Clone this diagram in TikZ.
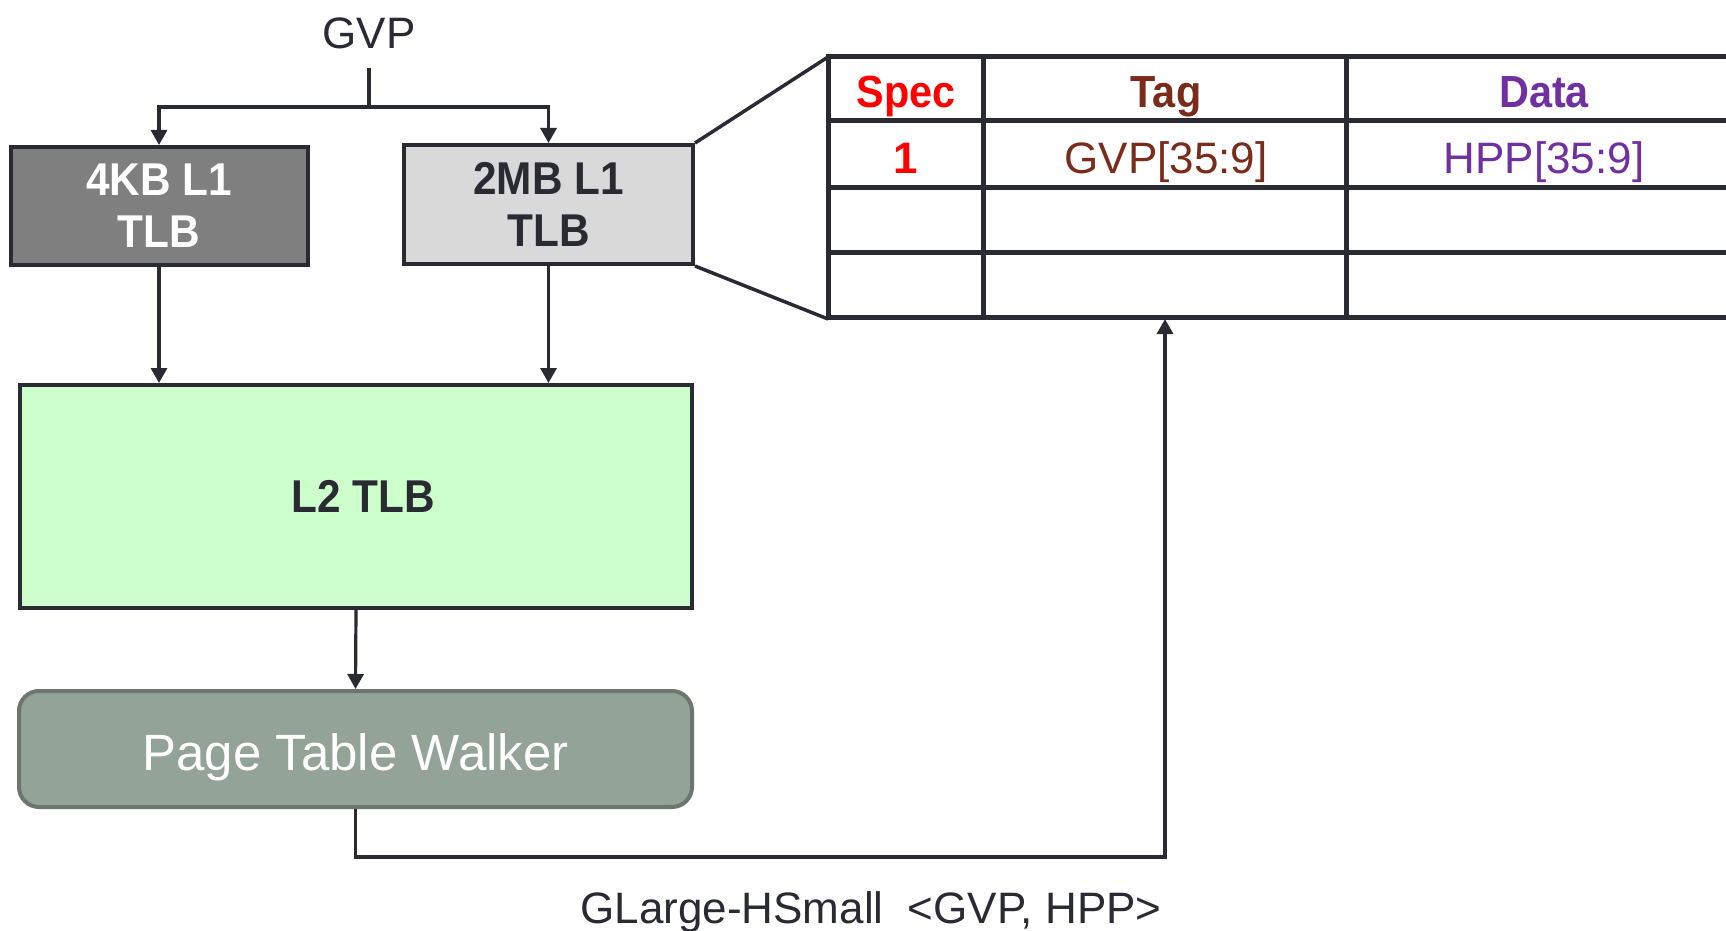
\documentclass[tikz,border=0pt]{standalone}
\usepackage{fontspec}
\setmainfont{Liberation Sans}
\newfontfamily\bnar{Liberation Sans}[FakeStretch=0.92]
\usetikzlibrary{arrows.meta}
\definecolor{ln}{HTML}{2A2A33}
\definecolor{g4k}{HTML}{7F7F7F}
\definecolor{g2m}{HTML}{D9D9D9}
\definecolor{l2c}{HTML}{CCFFCC}
\definecolor{ptwc}{HTML}{93A397}
\definecolor{ptwb}{HTML}{6B766D}
\definecolor{specc}{HTML}{FF0000}
\definecolor{tagc}{HTML}{7A2B1A}
\definecolor{datac}{HTML}{7030A0}
\tikzset{
  conn/.style={draw=ln, line width=3.2pt},
  arr/.style={conn, -{Triangle[length=15pt,width=16pt]}},
  tlbbox/.style={draw=ln, line width=4pt, inner sep=0pt, align=center,
    font=\bnar\bfseries\fontsize{46}{52}\selectfont},
  tline/.style={draw=ln, line width=5pt},
  txt/.style={inner sep=0pt, anchor=base}
}
\begin{document}
\begin{tikzpicture}[x=1pt,y=-1pt]
\useasboundingbox (0,0) rectangle (1726,931);
% GVP input
\node[txt, font=\fontsize{44}{50}\selectfont, text=ln] (gvp) at (369,49) {GVP};
\coordinate (gtop) at (369,68);
\coordinate (j) at (369,107);
% L1 TLBs
\node[tlbbox, fill=g4k, text=white, minimum width=297pt, minimum height=118pt] (l1a) at (159,206) {4KB L1\\TLB};
\node[tlbbox, fill=g2m, text=ln, minimum width=289pt, minimum height=119pt] (l1b) at (548.5,204.5) {2MB L1\\TLB};
% L2 TLB
\node[tlbbox, fill=l2c, text=ln, minimum width=672pt, minimum height=223pt] (l2) at (356,496.5) {\hspace*{14pt}L2 TLB};
% Page table walker
\node[draw=ptwb, line width=4pt, fill=ptwc, rounded corners=20pt, minimum width=673pt, minimum height=116pt,
  inner sep=0pt, text height=42pt, text depth=0pt, text=white, font=\fontsize{51}{56}\selectfont] (ptw) at (355.5,749) {Page Table Walker};
% connectors
\draw[conn] (gtop) -- (j);
\draw[arr] (j) -| (l1a.north);
\draw[arr] (j) -| (l1b.north);
\draw[arr] (l1a.south) -- (l1a.south |- l2.north);
\draw[arr] (l1b.south) -- (l1b.south |- l2.north);
\draw[arr] (l2.south) -- (ptw.north);
% table
\coordinate (tl) at (828,57);
\coordinate (bl) at (828,319);
\coordinate (tagbot) at (1165,319);
\foreach \yy in {57,121,187,252,317} \draw[tline] (826,\yy) -- (1730,\yy);
\foreach \xx in {828,983,1346} \draw[tline] (\xx,55) -- (\xx,320);
\draw[conn, line width=3.5pt] (l1b.north east) -- (tl);
\draw[conn, line width=3.5pt] (l1b.south east) -- (bl);
% table text
\node[txt, font=\bnar\bfseries\fontsize{45}{50}\selectfont, text=specc] (hspec) at (906,108) {Spec};
\node[txt, font=\bnar\bfseries\fontsize{45}{50}\selectfont, text=tagc] (htag) at (1166,108) {Tag};
\node[txt, font=\bnar\bfseries\fontsize{45}{50}\selectfont, text=datac] (hdata) at (1544,108) {Data};
\node[txt, font=\bfseries\fontsize{44}{50}\selectfont, text=specc] (r1s) at (906,173) {1};
\node[txt, font=\fontsize{44}{50}\selectfont, text=tagc] (r1t) at (1166,173) {GVP[35:9]};
\node[txt, font=\fontsize{44}{50}\selectfont, text=datac] (r1d) at (1544,173) {HPP[35:9]};
% feedback
\draw[arr] (ptw.south) -- ++(0,48) -| (tagbot);
\node[txt, font=\fontsize{44}{50}\selectfont, text=ln] (fill) at (871,923) {GLarge-HSmall\ \ <GVP, HPP>};
\end{tikzpicture}
\end{document}
